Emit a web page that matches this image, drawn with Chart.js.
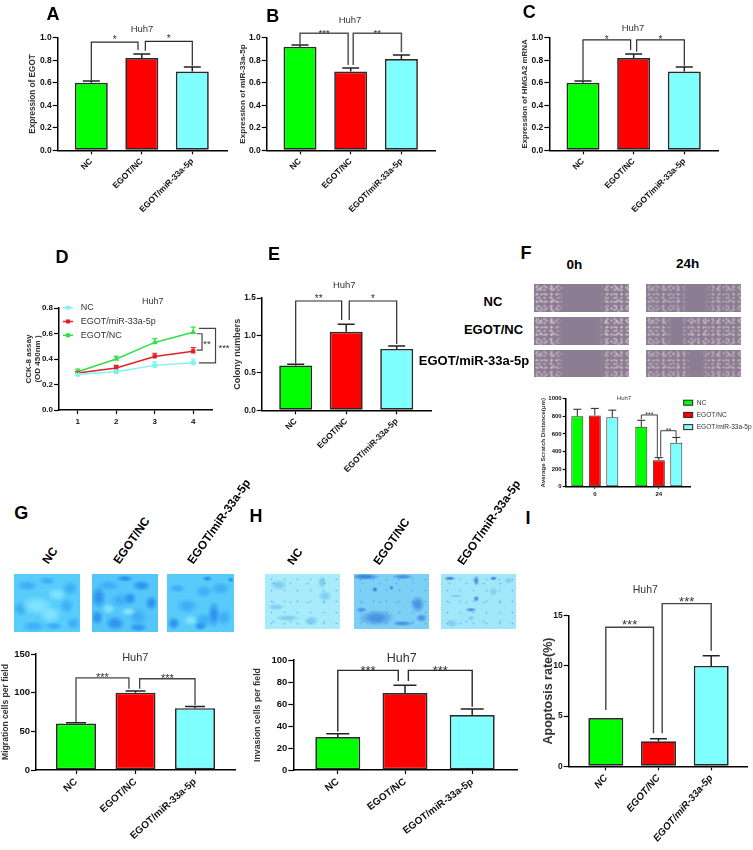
<!DOCTYPE html>
<html>
<head>
<meta charset="utf-8">
<title>Huh7</title>
<script src="https://cdn.jsdelivr.net/npm/chart.js@4"></script>
<style>
  html, body { margin: 0; padding: 0; background: #fff; }
  #page { position: relative; width: 753px; height: 850px; overflow: hidden; font-family: 'Liberation Sans', Arial, sans-serif; }
  #page canvas { position: absolute; }
  .txt { position: absolute; font-weight: bold; color: #000; white-space: nowrap; transform: translate(-50%, -50%); }
  .rot { position: absolute; font-weight: bold; color: #000; white-space: nowrap; font-size: 11.8px; line-height: 12px; transform-origin: 0 100%; transform: translateY(-100%) rotate(-55deg); }
  .photo { position: absolute; overflow: hidden; }
  .photo div { position: absolute; left: 0; top: 0; right: 0; bottom: 0; }
</style>
</head>
<body>
<div id="page"></div>
<script>
const categories = ['NC', 'EGOT/NC', 'EGOT/miR-33a-5p'];
const daysD = ['1', '2', '3', '4'];
const hoursF = ['0', '24'];

const valuesA = [0.6, 0.82, 0.7];
const errorsA = [0.015, 0.035, 0.04];
const valuesB = [0.92, 0.7, 0.81];
const errorsB = [0.015, 0.03, 0.036];
const valuesC = [0.6, 0.82, 0.7];
const errorsC = [0.015, 0.035, 0.04];
const valuesE = [0.6, 1.05, 0.82];
const errorsE = [0.015, 0.1, 0.04];
const valuesG = [60, 100, 80];
const errorsG = [1, 2, 2];
const valuesH = [30, 70, 50];
const errorsH = [3, 7, 5.5];
const valuesI = [4.8, 2.5, 10];
const errorsI = [0, 0.25, 1];

const ncD = [0.28, 0.3, 0.35, 0.37];
const ncErrD = [0.01, 0.01, 0.03, 0.03];
const mirD = [0.29, 0.33, 0.42, 0.46];
const mirErrD = [0.01, 0.02, 0.025, 0.03];
const egotD = [0.3, 0.4, 0.53, 0.61];
const egotErrD = [0.02, 0.02, 0.03, 0.04];

const ncF = [800, 680];
const ncErrF = [80, 75];
const egotF = [810, 300];
const egotErrF = [80, 30];
const mirF = [790, 500];
const mirErrF = [80, 60];

// brackets are in axis units: x = category index, y = axis value
const bracketsA = [{ x1: 0, y1: 0.62, x2: 0.925, y2: 0.89, top: 0.96, text: '*' }, { x1: 1.07, y1: 0.885, x2: 2, y2: 0.75, top: 0.968, text: '*' }];
const bracketsB = [{ x1: 0, y1: 0.945, x2: 0.95, y2: 0.757, top: 1.04, text: '***' }, { x1: 1.05, y1: 0.757, x2: 2, y2: 0.87, top: 1.04, text: '**' }];
const bracketsC = [{ x1: 0, y1: 0.62, x2: 0.94, y2: 0.89, top: 0.98, text: '*' }, { x1: 1.06, y1: 0.875, x2: 2, y2: 0.75, top: 0.98, text: '*' }];
const bracketsD = [
  { x1: 3.09, y1: 0.598, right: 3.23, y2: 0.47, text: '**', starX: 3.36, starY: 0.536 },
  { x1: 3.15, y1: 0.64, right: 3.58, y2: 0.369, text: '***', starX: 3.8, starY: 0.5 }
];
const bracketsE = [{ x1: 0, y1: 0.625, x2: 0.91, y2: 1.205, top: 1.46, text: '**' }, { x1: 1.06, y1: 1.205, x2: 2, y2: 0.885, top: 1.46, text: '*' }];
const bracketsF = [{ x1: 0.727, y1: 767, x2: 0.977, y2: 334, top: 815, text: '***' }, { x1: 1.03, y1: 342, x2: 1.27, y2: 568, top: 636, text: '**' }];
const bracketsG = [{ x1: 0, y1: 62, x2: 0.89, y2: 105, top: 119, text: '***' }, { x1: 1.07, y1: 105, x2: 2, y2: 84, top: 118, text: '***' }];
const bracketsH = [{ x1: 0, y1: 35, x2: 0.9, y2: 81, top: 90.6, text: '***' }, { x1: 1.05, y1: 81, x2: 2, y2: 57.5, top: 90.6, text: '***' }];
const bracketsI = [{ x1: 0, y1: 5.6, x2: 0.905, y2: 3.3, top: 13.85, text: '***' }, { x1: 1.07, y1: 3.3, x2: 2, y2: 11.5, top: 16.2, text: '***' }];

const FONT = "'Liberation Sans', Arial, sans-serif";
const GREEN = '#00ff00', RED = '#ff0000', CYAN = '#80ffff';
const barColors = [GREEN, RED, CYAN];
const page = document.getElementById('page');

// draws error bars, brackets, stars, the Huh7 heading and the small legends
const annotPlugin = {
  id: 'annot',
  afterDatasetsDraw(chart, args, o) {
    const ctx = chart.ctx, xs = chart.scales.x, ys = chart.scales.y;
    ctx.save();
    chart.data.datasets.forEach((ds, di) => {
      const meta = chart.getDatasetMeta(di);
      ctx.strokeStyle = ds.errColor || '#222';
      ctx.lineWidth = o.errWidth;
      ds.errors.forEach((e, i) => {
        if (!e) return;
        const px = meta.data[i].x, y0 = ys.getPixelForValue(ds.data[i].y), y1 = ys.getPixelForValue(ds.data[i].y + e);
        ctx.beginPath();
        ctx.moveTo(px, y0); ctx.lineTo(px, y1);
        ctx.moveTo(px - o.cap, y1); ctx.lineTo(px + o.cap, y1);
        ctx.stroke();
      });
    });

    ctx.strokeStyle = o.bracketColor;
    ctx.lineWidth = o.bracketWidth;
    ctx.fillStyle = '#333';
    ctx.font = o.starSize + 'px ' + FONT;
    ctx.textAlign = 'center';
    ctx.textBaseline = 'alphabetic';
    o.brackets.forEach(b => {
      ctx.beginPath();
      let sx, sy;
      if (b.right !== undefined) {
        const r = xs.getPixelForValue(b.right), a = xs.getPixelForValue(b.x1);
        ctx.moveTo(a, ys.getPixelForValue(b.y1));
        ctx.lineTo(r, ys.getPixelForValue(b.y1));
        ctx.lineTo(r, ys.getPixelForValue(b.y2));
        ctx.lineTo(a, ys.getPixelForValue(b.y2));
        sx = xs.getPixelForValue(b.starX);
        sy = ys.getPixelForValue(b.starY);
      } else {
        const a = xs.getPixelForValue(b.x1), c = xs.getPixelForValue(b.x2), t = ys.getPixelForValue(b.top);
        ctx.moveTo(a, ys.getPixelForValue(b.y1));
        ctx.lineTo(a, t);
        ctx.lineTo(c, t);
        ctx.lineTo(c, ys.getPixelForValue(b.y2));
        sx = (a + c) / 2;
        sy = t - o.starGap;
      }
      ctx.stroke();
      ctx.fillText(b.text, sx, sy + o.starSize * 0.55);
    });

    ctx.fillStyle = '#333';
    ctx.font = o.headSize + 'px ' + FONT;
    ctx.textBaseline = 'middle';
    ctx.fillText('Huh7', o.headX, o.headY);

    if (o.legend) {
      const l = o.legend;
      ctx.font = l.size + 'px ' + FONT;
      ctx.textAlign = 'left';
      chart.data.datasets.forEach((ds, i) => {
        const y = l.y + i * l.gap;
        if (l.kind === 'box') {
          ctx.fillStyle = ds.backgroundColor;
          ctx.strokeStyle = '#222';
          ctx.lineWidth = 1;
          ctx.fillRect(l.x, y - l.h / 2, l.w, l.h);
          ctx.strokeRect(l.x, y - l.h / 2, l.w, l.h);
        } else {
          ctx.strokeStyle = ds.borderColor;
          ctx.lineWidth = 1.5;
          ctx.beginPath(); ctx.moveTo(l.x, y); ctx.lineTo(l.x + l.w, y); ctx.stroke();
          ctx.fillStyle = ds.borderColor;
          ctx.fillRect(l.x + l.w / 2 - 2, y - 2, 4, 4);
        }
        ctx.fillStyle = '#333';
        ctx.fillText(ds.label, l.x + l.w + l.textGap, y);
      });
    }
    ctx.restore();
  }
};

function makeChart(p) {
  const canvas = document.createElement('canvas');
  const cx = Math.round(p.titleX - p.titleSize * (p.titleLH || 1.2) / 2);
  const cy = p.top, cw = p.width - cx, ch = p.height;
  canvas.width = cw;
  canvas.height = ch;
  canvas.style.left = cx + 'px';
  canvas.style.top = cy + 'px';
  page.appendChild(canvas);

  new Chart(canvas, {
    type: p.type,
    data: { datasets: p.datasets },
    plugins: [annotPlugin],
    options: {
      responsive: false,
      animation: false,
      devicePixelRatio: 1,
      layout: {
        autoPadding: false,
        padding: { top: p.plot[1] - cy, right: cx + cw - p.plot[2], left: 0, bottom: 0 }
      },
      plugins: {
        legend: { display: false },
        title: { display: false },
        tooltip: { enabled: false },
        annot: {
          brackets: p.brackets, errWidth: p.errWidth || 1.5, cap: p.cap,
          bracketColor: p.bracketColor || '#2a2a2a', bracketWidth: p.bracketWidth || 1.2,
          starSize: p.starSize, starGap: p.starGap,
          headX: p.head[0] - cx, headY: p.head[1] - cy, headSize: p.headSize,
          legend: p.legend ? Object.assign({}, p.legend, { x: p.legend.x - cx, y: p.legend.y - cy }) : null
        }
      },
      scales: {
        x: {
          type: 'linear',
          offset: false,
          min: (p.plot[0] - p.c0) / p.step,
          max: (p.plot[2] - p.c0) / p.step,
          afterBuildTicks: s => { s.ticks = p.labels.map((_, i) => ({ value: i })); },
          afterFit: s => { s.height = cy + ch - p.plot[3]; s.paddingLeft = 0; s.paddingRight = 0; },
          border: { display: true, color: '#000', width: 1.5 },
          grid: { display: true, offset: false, drawOnChartArea: false, drawTicks: true, tickLength: p.xTick || 4, tickColor: '#000', tickWidth: 1.2 },
          ticks: {
            autoSkip: false,
            padding: p.xPad === undefined ? 2 : p.xPad,
            minRotation: p.rot,
            maxRotation: p.rot,
            color: '#111',
            font: { family: FONT, size: p.xSize, weight: 'bold', style: p.xItalic ? 'italic' : 'normal' },
            callback: v => p.labels[v]
          }
        },
        y: {
          type: 'linear',
          min: 0,
          max: p.yMax,
          afterFit: s => { s.width = p.plot[0] - cx; s.paddingTop = 0; s.paddingBottom = 0; },
          border: { display: true, color: '#000', width: 1.5 },
          grid: { display: true, drawOnChartArea: false, drawTicks: true, tickLength: p.yTick || 5, tickColor: '#000', tickWidth: 1.2 },
          ticks: {
            stepSize: p.yStep,
            padding: 1,
            color: '#111',
            font: { family: FONT, size: p.ySize, weight: 'bold' },
            callback: v => v.toFixed(p.dec)
          },
          title: {
            display: true,
            text: p.title,
            padding: 0,
            color: '#333',
            font: { family: FONT, size: p.titleSize, weight: p.titleWeight || 'bold', lineHeight: p.titleLH || 1.2 }
          }
        }
      }
    }
  });
}

function barSet(values, errors) {
  return [{
    data: values.map((v, i) => ({ x: i, y: v })),
    errors: errors,
    backgroundColor: barColors,
    borderColor: '#2a2a2a',
    borderWidth: 1.7,
    borderSkipped: false,
    barPercentage: 1
  }];
}

function barPanel(p, values, errors) {
  const sets = barSet(values, errors);
  sets[0].categoryPercentage = p.barW / p.step;
  makeChart(Object.assign({ type: 'bar', datasets: sets, labels: categories, rot: 45, dec: 0 }, p));
}

function lineSet(label, values, errors, color, style) {
  return {
    label: label,
    data: values.map((v, i) => ({ x: i, y: v })),
    errors: errors,
    errColor: color,
    borderColor: color,
    backgroundColor: color,
    borderWidth: 1.5,
    pointRadius: 2,
    pointStyle: style,
    tension: 0
  };
}

function groupSet(label, values, errors, color) {
  return {
    label: label,
    data: values.map((v, i) => ({ x: i, y: v })),
    errors: errors,
    backgroundColor: color,
    borderColor: '#2a2a2a',
    borderWidth: 1,
    borderSkipped: false,
    categoryPercentage: 52.5 / 64,
    barPercentage: 12 / 17.5
  };
}

barPanel({ titleX: 33, titleSize: 8.2, top: 10, width: 240, height: 215, plot: [57.7, 37.7, 227, 150.3], c0: 91.3, step: 50.5, barW: 33,
  yMax: 1, yStep: 0.2, dec: 1, ySize: 8.5, xSize: 8.5, title: 'Expression of EGOT', brackets: bracketsA, cap: 8.5, starSize: 10, starGap: 5,
  head: [142, 29.3], headSize: 9.5 }, valuesA, errorsA);

barPanel({ titleX: 242.7, titleSize: 8.1, top: 10, width: 445, height: 215, plot: [266.7, 37.7, 435.7, 150.3], c0: 300, step: 50.7, barW: 33,
  yMax: 1, yStep: 0.2, dec: 1, ySize: 8.5, xSize: 8.5, title: 'Expression of miR-33a-5p', brackets: bracketsB, cap: 8.5, starSize: 9.5, starGap: 2.7,
  bracketColor: '#555', bracketWidth: 1.5, head: [350, 20], headSize: 9.5 }, valuesB, errorsB);

barPanel({ titleX: 525, titleSize: 7.9, top: 10, width: 730, height: 215, plot: [549.3, 37.7, 718.7, 150.3], c0: 583, step: 50.65, barW: 33,
  yMax: 1, yStep: 0.2, dec: 1, ySize: 8.5, xSize: 8.5, title: 'Expression of HMGA2 mRNA', brackets: bracketsC, cap: 8.5, starSize: 10, starGap: 2.7,
  head: [633, 28.7], headSize: 9.5 }, valuesC, errorsC);

makeChart({ type: 'line', labels: daysD, rot: 0, dec: 1,
  datasets: [
    lineSet('NC', ncD, ncErrD, '#7ff5f0', 'circle'),
    lineSet('EGOT/miR-33a-5p', mirD, mirErrD, '#e0202a', 'rect'),
    lineSet('EGOT/NC', egotD, egotErrD, '#2fe04a', 'triangle')
  ],
  titleX: 28, titleSize: 8, titleLH: 1.12, top: 290, width: 240, height: 140, plot: [59, 308, 212.7, 410], c0: 77.7, step: 38.5,
  yMax: 0.8, yStep: 0.2, ySize: 8, xSize: 8, xPad: 3, title: ['CCK-8 assay', '(OD 450nm )'], brackets: bracketsD, cap: 2.5, starSize: 9.5, starGap: 3,
  bracketColor: '#444', bracketWidth: 1.2, errWidth: 1.2,
  head: [152.7, 302], headSize: 9, legend: { kind: 'line', x: 63, y: 307.7, gap: 13.8, w: 10, textGap: 7.7, size: 9 } });

barPanel({ titleX: 237.3, titleSize: 9, top: 280, width: 440, height: 215, plot: [261.7, 298, 431, 410.3], c0: 295.7, step: 50.5, barW: 33,
  yMax: 1.5, yStep: 0.5, dec: 1, ySize: 8.2, xSize: 8.5, title: 'Colony numbers', brackets: bracketsE, cap: 8.5, starSize: 10, starGap: 4,
  head: [344.3, 285.7], headSize: 9.5 }, valuesE, errorsE);

makeChart({ type: 'bar', labels: hoursF, rot: 0, dec: 0,
  datasets: [
    groupSet('NC', ncF, ncErrF, GREEN),
    groupSet('EGOT/NC', egotF, egotErrF, RED),
    groupSet('EGOT/miR-33a-5p', mirF, mirErrF, CYAN)
  ],
  titleX: 543.3, titleSize: 6.2, top: 388, width: 753, height: 115, plot: [565.7, 398.7, 690, 486.7], c0: 594.8, step: 64,
  yMax: 1000, yStep: 200, ySize: 6, xSize: 6, xTick: 2, yTick: 3, xPad: 2, title: 'Average Scratch Distance(\u03bcm)', brackets: bracketsF, cap: 4, errWidth: 1, starSize: 7, starGap: 2,
  bracketWidth: 0.9, head: [624, 398], headSize: 6,
  legend: { kind: 'box', x: 683.7, y: 402.7, gap: 12.2, w: 9, h: 5, textGap: 4, size: 6.6 } });

barPanel({ titleX: 5.5, titleSize: 8.6, top: 640, width: 245, height: 210, plot: [36, 654, 235, 770], c0: 76, step: 59.5, barW: 40,
  yMax: 150, yStep: 50, ySize: 9.5, xSize: 10, rot: 42, title: 'Migration cells per field', brackets: bracketsG, cap: 10, starSize: 11, starGap: 2.7,
  bracketColor: '#444', bracketWidth: 1.3, head: [135.3, 657.7], headSize: 11 }, valuesG, errorsG);

barPanel({ titleX: 257.3, titleSize: 8.75, top: 640, width: 525, height: 210, plot: [293.3, 660, 517.7, 770], c0: 337.8, step: 67.2, barW: 45,
  yMax: 100, yStep: 20, ySize: 9.5, xSize: 10, rot: 37, title: 'Invasion cells per field', brackets: bracketsH, cap: 11.5, starSize: 13, starGap: 2.7,
  bracketWidth: 1.4, head: [401.7, 658.3], headSize: 12.5 }, valuesH, errorsH);

barPanel({ titleX: 548.3, titleSize: 12.5, top: 575, width: 753, height: 275, plot: [568.7, 615.7, 747, 766.3], c0: 605.8, step: 52.7, barW: 35,
  yMax: 15, yStep: 5, ySize: 8.5, xSize: 10, xItalic: true, rot: 49, title: 'Apoptosis rate(%)', brackets: bracketsI, cap: 8.5, starSize: 13, starGap: 5,
  bracketColor: '#444', bracketWidth: 1.4, head: [645.3, 590], headSize: 10.5 }, valuesI, errorsI);

// panel letters and row / column captions
function addText(str, x, y, size) {
  const d = document.createElement('div');
  d.className = 'txt';
  d.textContent = str;
  d.style.left = x + 'px';
  d.style.top = y + 'px';
  d.style.fontSize = size + 'px';
  page.appendChild(d);
}
[['A', 53, 14], ['B', 272.7, 16], ['C', 529.3, 12], ['D', 62, 256.7], ['E', 274, 254], ['F', 526, 253.3], ['G', 21.3, 513.3], ['H', 256, 515.7], ['I', 528, 518]]
  .forEach(t => addText(t[0], t[1], t[2], 18));
addText('0h', 574.3, 264, 13.5);
addText('24h', 687.7, 262.7, 13.5);
addText('NC', 493, 300.7, 13);
addText('EGOT/NC', 493.5, 329.3, 13);
addText('EGOT/miR-33a-5p', 474, 360, 13);

function addRot(str, x, y) {
  const d = document.createElement('div');
  d.className = 'rot';
  d.textContent = str;
  d.style.left = x + 'px';
  d.style.top = y + 'px';
  page.appendChild(d);
}
[49.7, 121.3, 194.7].forEach((x, i) => addRot(categories[i], x, 566));
[295.3, 381.3, 464.7].forEach((x, i) => addRot(categories[i], x, 567));

// micrographs, plain CSS textures
function addPhoto(x0, y0, x1, y1, css, layers) {
  const d = document.createElement('div');
  d.className = 'photo';
  d.style.cssText = 'left:' + x0 + 'px;top:' + y0 + 'px;width:' + (x1 - x0) + 'px;height:' + (y1 - y0) + 'px;' + css;
  (layers || []).forEach(l => {
    const c = document.createElement('div');
    c.style.cssText = l;
    d.appendChild(c);
  });
  page.appendChild(d);
}

const speckle = 'filter:blur(0.5px);background-image:' +
  'radial-gradient(circle, rgba(232,214,222,.7) 0.8px, transparent 1.5px),' +
  'radial-gradient(circle, rgba(225,205,215,.55) 1px, transparent 1.7px),' +
  'radial-gradient(circle, rgba(238,225,230,.65) 0.8px, transparent 1.3px),' +
  'radial-gradient(circle, rgba(215,195,208,.6) 1.3px, transparent 2.1px);' +
  'background-size:5px 7px,7px 4px,11px 9px,13px 11px;';

function scratch(x0, y0, x1, y1, gapL, gapR, amount) {
  const mask = 'linear-gradient(90deg,#000 0,#000 ' + (gapL - 8) + '%,transparent ' + gapL + '%,transparent ' + gapR + '%,#000 ' + (gapR + 8) + '%,#000 100%)';
  addPhoto(x0, y0, x1, y1, 'background:#8c7d92;',
    [speckle + 'opacity:' + amount + ';-webkit-mask-image:' + mask + ';mask-image:' + mask + ';']);
}
scratch(534.3, 284.3, 629, 312.3, 32, 70, 0.85);
scratch(646, 284.3, 740.7, 312.3, 44, 62, 0.6);
scratch(534.3, 317, 629, 345, 30, 68, 0.85);
scratch(646, 317, 740.7, 345, 28, 36, 0.7);
scratch(534.3, 349.7, 629, 377.3, 32, 70, 0.75);
scratch(646, 349.7, 740.7, 377.3, 48, 58, 0.65);

function blotches(list) {
  return 'background-image:' + list.map(s =>
    'radial-gradient(ellipse ' + s[2] + '% ' + s[3] + '% at ' + s[0] + '% ' + s[1] + '%,' + s[4] + ' 0,' + s[4] + ' 30%,transparent 100%)').join(',') + ';';
}
const dark = '#2f96ee', mid = '#3fb0f5', light = '#7fe2ff';
const hDark = '#3a87e0', hMid = '#4a94e4', hSoft = '#7fcdf0';
const grain = 'background-image:radial-gradient(circle,rgba(50,120,220,.4) 0.7px,transparent 1.2px),radial-gradient(circle,rgba(50,120,220,.3) 0.8px,transparent 1.3px);background-size:13px 11px,17px 19px;';

addPhoto(14, 573.7, 80, 631.7, 'background:#58cdfb;' + blotches([[35,55,25,18,light],[55,70,18,16,light],[65,35,15,12,light],[20,20,18,10,mid],[50,12,14,8,mid],[85,25,14,14,mid],[10,60,12,14,mid],[80,55,12,14,mid],[90,85,12,12,mid],[30,90,20,10,mid],[60,90,15,8,mid]]));
addPhoto(92.3, 573.7, 158.3, 631.7, 'background:#55c6fa;' + blotches([[25,60,10,10,light],[55,65,12,8,light],[10,40,12,20,dark],[8,75,10,14,dark],[58,42,10,12,dark],[45,45,20,14,mid],[90,50,10,14,dark],[75,20,15,10,dark],[25,20,20,10,mid],[50,8,14,6,dark],[70,75,15,18,mid],[35,85,16,14,dark],[70,92,15,8,dark]]));
addPhoto(167, 573.7, 233.7, 631.7, 'background:#58cbfb;' + blotches([[35,80,12,10,light],[70,70,10,24,dark],[85,75,12,16,mid],[10,85,10,12,dark],[50,90,10,8,dark],[55,80,15,14,mid],[30,55,18,14,mid],[55,30,14,12,mid],[15,25,14,8,mid],[80,25,16,12,mid],[95,10,5,5,dark],[60,8,8,5,dark]]));

addPhoto(265.3, 574, 340, 628.7, 'background:#a8ecfb;' + blotches([[76,15,6,12,hSoft],[18,20,12,10,hSoft],[80,40,10,10,hSoft],[62,85,10,10,hSoft],[30,80,18,6,hSoft],[15,60,12,6,hSoft]]), [grain]);
addPhoto(354.3, 574, 429, 628.7, 'background:#7dd0f5;' + blotches([[15,5,20,6,hDark],[65,5,15,5,hMid],[28,28,4,5,hDark],[50,25,3,4,hDark],[85,55,10,16,hMid],[65,55,15,6,hSoft],[30,80,25,15,hMid],[90,80,8,8,hMid],[50,70,20,5,hSoft],[10,65,8,5,hMid],[65,90,15,5,hMid]]), [grain]);
addPhoto(441, 574, 515.7, 628.7, 'background:#a2e7f9;' + blotches([[12,8,8,4,hDark],[70,8,5,4,hDark],[47,12,4,10,hMid],[90,12,6,6,hSoft],[47,45,4,6,hMid],[70,32,6,8,hSoft],[20,40,10,3,hSoft],[40,80,5,5,hSoft],[40,65,8,4,hMid],[15,90,8,8,hSoft]]), [grain]);
</script>
</body>
</html>
